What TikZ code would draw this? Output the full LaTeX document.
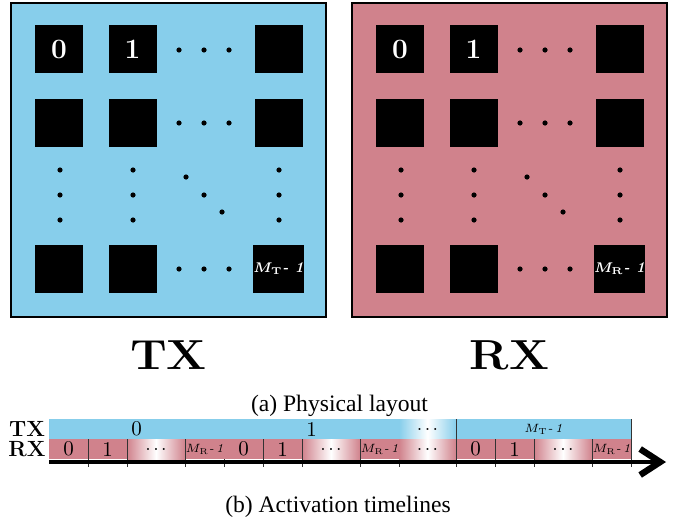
\documentclass[tikz,border=0pt]{standalone}
\usepackage{fontspec}
\usepackage{graphicx}
\usetikzlibrary{positioning,arrows.meta}
\newfontfamily\capfont{Liberation Serif}
\definecolor{txblue}{RGB}{135,206,235}
\definecolor{rxred}{RGB}{208,130,140}
\newcommand{\mlab}[1]{$M_{\mathrm{#1}}$\textit{-\,1}}
\newcommand{\mlabbf}[1]{{\boldmath$M_{\mathbf{#1}}$}\textbf{\textit{- 1}}}
\newcommand{\sdots}{{\fontsize{6}{7}\selectfont\boldmath$\cdots$}}
\tikzstyle{panel} = [rectangle, draw=black, line width=1.4pt, minimum width=157.5pt, minimum height=157pt, inner sep=0pt]
\tikzstyle{elem} = [rectangle, fill=black, minimum size=24pt, inner sep=0pt, text=white, font=\fontsize{14}{16}\selectfont\bfseries]
\tikzstyle{biglabel} = [font=\fontsize{21}{24}\selectfont\bfseries]
\tikzstyle{sidelabel} = [font=\fontsize{11}{12}\selectfont\bfseries, inner sep=0pt]
\tikzstyle{slot} = [rectangle, minimum height=10pt, inner sep=0pt, outer sep=0pt, font=\fontsize{10.5}{11}\selectfont]
\tikzstyle{txslot} = [slot, fill=txblue, minimum width=87.5pt]
\tikzstyle{rxslot} = [slot, fill=rxred, minimum width=19.5pt]
\tikzstyle{txfade} = [slot, left color=txblue, right color=txblue, middle color=white, minimum width=28.5pt]
\tikzstyle{rxfade} = [slot, left color=rxred, right color=rxred, middle color=white, minimum width=29pt]
\tikzstyle{divline} = [draw=black!80, line width=0.5pt]
\tikzstyle{timeaxis} = [line width=2.4pt, -{Straight Barb[length=10pt,width=13pt,line width=3.2pt]}]
\tikzstyle{caption} = [font=\capfont\fontsize{11.8}{14}\selectfont, anchor=base]

\begin{document}
\begin{tikzpicture}[x=0.5pt, y=-0.5pt]
\useasboundingbox (0,0) rectangle (683,519);
% the two arrays
\foreach \ox/\pn/\s/\col in {0/t/T/txblue, 341/r/R/rxred} {
    \node (\pn panel) [panel, fill=\col] at (\ox+168.5,160) {};
    \node (\pn00) [elem] at (\ox+59,49.5) {0};
    \node (\pn01) [elem] at (\ox+132.5,49.5) {1};
    \node (\pn0n) [elem] at (\ox+278.5,49.5) {};
    \node (\pn10) [elem] at (\ox+59,123) {};
    \node (\pn11) [elem] at (\ox+132.5,123) {};
    \node (\pn1n) [elem] at (\ox+278.5,123) {};
    \node (\pn n0) [elem] at (\ox+59,269) {};
    \node (\pn n1) [elem] at (\ox+132.5,269) {};
    \node (\pn nn) [elem, font=\fontsize{7.5}{8}\selectfont] at (\ox+278.5,269) {\mlabbf{\s}};
    \foreach \dx/\dy in {179/50, 204/50, 229/50, 179/123, 204/123, 229/123,
        179/269, 204/269, 229/269, 60/170, 60/195, 60/220, 133/170, 133/195, 133/220,
        279/170, 279/195, 279/220, 186/177, 204/195, 222/212}
        \fill (\ox+\dx,\dy) circle (1.3pt);
    \node (\pn label) [biglabel] at (\ox+168.5,355) {\scalebox{1.12}[1]{\s X}};
}
\node (capa) [caption] at (339.5,411) {(a) Physical layout};

% timelines
\node (txside) [sidelabel] at (27,429) {TX};
\node (rxside) [sidelabel] at (27,449) {RX};
\foreach \blk/\bx/\tl in {a/49/0, b/224/1, c/456/{\fontsize{6.2}{7}\selectfont\mlab{T}}} {
    \node (tx\blk) [txslot, anchor=west] at (\bx,429) {\tl};
    \node (\blk0) [rxslot, anchor=west] at (\bx,449) {0};
    \node (\blk1) [rxslot, right=0pt of \blk0] {1};
    \node (\blk2) [rxfade, right=0pt of \blk1] {\sdots};
    \node (\blk3) [rxslot, right=0pt of \blk2, font=\fontsize{6.1}{7}\selectfont] {\mlab{R}};
    \draw [divline] (\blk0.north east) -- ++(0,28);
    \draw [divline] (\blk1.north east) -- ++(0,28);
    \draw [divline] (\blk2.north east) -- ++(0,28);
    \draw [divline] (tx\blk.north east) -- ++(0,48);
}
\node (txgap) [txfade, anchor=west] at (399,429) {\sdots};
\node (rxgap) [rxfade, minimum width=28.5pt, anchor=west] at (399,449) {\sdots};
\draw [divline] (txgap.north east) -- ++(0,48);
\coordinate (t0) at (49,462);
\coordinate (t1) at (666,462);
\draw [timeaxis] (t0) -- (t1);
\node (capb) [caption] at (338,512) {(b) Activation timelines};
\end{tikzpicture}
\end{document}
